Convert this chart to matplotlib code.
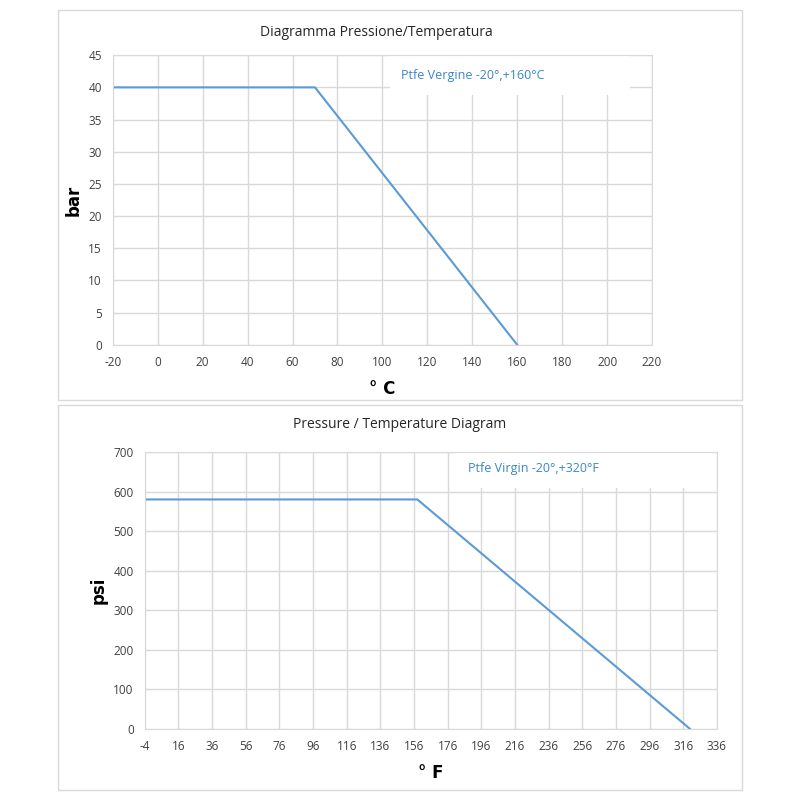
import matplotlib.pyplot as plt
from matplotlib.patches import Rectangle

# dati
temp_c = [-20, 70, 160]
press_bar = [40, 40, 0]
xticks_c = list(range(-20, 221, 20))
yticks_bar = list(range(0, 46, 5))

temp_f = [-4, 158, 320]
press_psi = [580, 580, 0]
xticks_f = list(range(-4, 337, 20))
yticks_psi = list(range(0, 701, 100))

plt.rcParams['font.family'] = ['Open Sans', 'DejaVu Sans']
plt.rcParams['axes.unicode_minus'] = False
line_col = '#5b9bd5'
grid_col = '#d9d9d9'
txt_col = '#404040'

fig = plt.figure(figsize=(8, 8), dpi=100)

# cornici dei due pannelli
for y0, h in [(0.5, 0.4875), (0.0125, 0.481)]:
    fig.patches.append(Rectangle((0.0725, y0), 0.855, h, transform=fig.transFigure,
                                 fill=False, edgecolor='#d9d9d9', linewidth=1))


def make_panel(rect, x, y, xt, yt, title, ylab, xlab, note, title_xy, note_xy, box):
    ax = fig.add_axes(rect)
    ax.plot(x, y, color=line_col, linewidth=1.5, zorder=3)
    ax.set_xlim(xt[0], xt[-1])
    ax.set_ylim(yt[0], yt[-1])
    ax.set_xticks(xt)
    ax.set_yticks(yt)
    ax.tick_params(length=0, labelsize=8.5, colors=txt_col, pad=8)
    ax.grid(True, color=grid_col, linewidth=1, zorder=1)
    for s in ax.spines.values():
        s.set_color(grid_col)
        s.set_zorder(3)
    ax.set_ylabel(ylab, fontsize=12, fontweight='bold', family='DejaVu Sans')
    ax.set_xlabel(xlab, fontsize=12, fontweight='bold', family='DejaVu Sans', labelpad=8)
    fig.text(title_xy[0], title_xy[1], title,
             ha='center', va='center', fontsize=10, color='#262626')
    # riquadro bianco della legenda
    ax.add_patch(Rectangle((box[0], box[1]), box[2], box[3], transform=ax.transAxes,
                           facecolor='white', edgecolor='none', zorder=2))
    ax.text(note_xy[0], note_xy[1], note, transform=ax.transAxes, fontsize=9,
            color='#3a86c8', ha='left', va='center', zorder=4)
    return ax


ax1 = make_panel([0.141, 0.569, 0.674, 0.362], temp_c, press_bar, xticks_c, yticks_bar,
                 'Diagramma Pressione/Temperatura', 'bar', '° C',
                 'Ptfe Vergine -20°,+160°C', (0.47, 0.959), (0.534, 0.931),
                 (0.514, 0.862, 0.445, 0.135))
ax2 = make_panel([0.181, 0.089, 0.715, 0.346], temp_f, press_psi, xticks_f, yticks_psi,
                 'Pressure / Temperature Diagram', 'psi', '° F',
                 'Ptfe Virgin -20°,+320°F', (0.5, 0.469), (0.565, 0.939),
                 (0.542, 0.870, 0.455, 0.127))

fig.savefig('out.png', dpi=100)
